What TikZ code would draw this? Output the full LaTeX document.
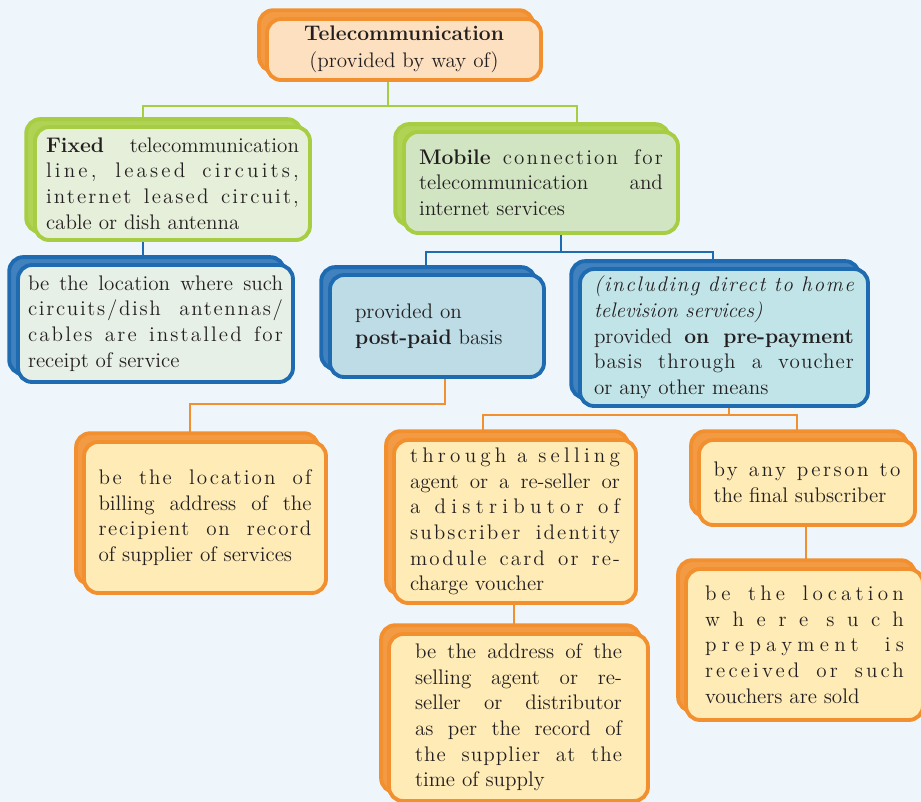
\documentclass[tikz,border=0pt]{standalone}
\usepackage{fontspec}
\setmainfont{Latin Modern Roman}
\usetikzlibrary{shadows,backgrounds}

\tolerance=10000
\newcommand\spread[2]{{\addfontfeature{LetterSpace=#1}#2}}

\definecolor{telorange}{HTML}{F2902F}
\definecolor{telpeach}{HTML}{FDE0BF}
\definecolor{telcream}{HTML}{FEEBB6}
\definecolor{telgreen}{HTML}{A7CD42}
\definecolor{telsage}{HTML}{E5EFD9}
\definecolor{telmint}{HTML}{D1E5C3}
\definecolor{telblue}{HTML}{1E6BB2}
\definecolor{telfog}{HTML}{E7F0E7}
\definecolor{telsky}{HTML}{BDDCE6}
\definecolor{telaqua}{HTML}{C1E4E8}
\definecolor{telback}{HTML}{EEF6FC}
\definecolor{telink}{HTML}{231F20}

\tikzset{
  card/.style={rounded corners=8pt, line width=2.2pt, inner sep=0pt, align=justify,
    text=telink, font=\fontsize{12}{14.6}\selectfont},
  ocard/.style={card, draw=telorange, fill=telcream,
    general shadow={draw=telorange, fill=telorange!90, shadow xshift=-4.5pt, shadow yshift=5pt}},
  pcard/.style={ocard, fill=telpeach},
  gcard/.style={card, draw=telgreen,
    general shadow={draw=telgreen, fill=telgreen!90, shadow xshift=-5pt, shadow yshift=4.5pt}},
  bcard/.style={card, draw=telblue,
    general shadow={draw=telblue, fill=telblue!85, shadow xshift=-5pt, shadow yshift=4.5pt}},
  gline/.style={draw=telgreen, line width=1.5pt},
  bline/.style={draw=telblue, line width=1.5pt},
  oline/.style={draw=telorange, line width=1.5pt}
}

\begin{document}
\begin{tikzpicture}[x=0.02cm, y=-0.02cm]
\useasboundingbox (0,0) rectangle (921,802);

% first level
\node[pcard, minimum width=5.48cm, minimum height=1.22cm, text width=4.8cm, align=center,
  font=\fontsize{12}{15.3}\selectfont] (tele) at (404,49.5)
  {\textbf{Telecommunication}\\(provided by way of)};

\node[gcard, fill=telsage, minimum width=5.5cm, minimum height=2.26cm, text width=5.06cm] (fixed) at (172.5,183.5)
  {\textbf{Fixed} telecommunication\linebreak \spread{15}{line, leased circuits,}\linebreak \spread{10}{internet leased circuit,}\linebreak cable or dish antenna};
\node[gcard, fill=telmint, minimum width=5.48cm, minimum height=2.02cm, text width=4.88cm] (mobile) at (541,182.5)
  {\textbf{Mobile} \spread{10}{connection for}\linebreak telecommunication and\linebreak internet services};

% blue row
\node[bcard, fill=telfog, minimum width=5.5cm, minimum height=2.34cm, text width=5.1cm] (bleft) at (155.5,323.5)
  {be the location where such\linebreak \spread{8}{circuits/dish antennas/}\linebreak \spread{10}{cables are installed for}\linebreak receipt of service};
\node[bcard, fill=telsky, minimum width=4.28cm, minimum height=2.04cm, text width=3.28cm, align=left] (post) at (437,326)
  {provided on\\\textbf{post-paid} basis};
\node[bcard, fill=telaqua, minimum width=5.76cm, minimum height=2.74cm, text width=5.2cm] (pre) at (724,337.5)
  {\textit{\spread{8}{(including direct to home}\linebreak television services)}\newline provided \textbf{on pre-payment}\linebreak \spread{5}{basis through a voucher}\linebreak or any other means};

% orange row
\node[ocard, minimum width=4.84cm, minimum height=3.02cm, text width=4.26cm] (bill) at (205,517.5)
  {\spread{10}{be the location of}\linebreak billing address of the\linebreak \spread{8}{recipient on record}\linebreak of supplier of services};
\node[ocard, minimum width=4.84cm, minimum height=3.26cm, text width=4.2cm] (sell) at (515,521.5)
  {\spread{20}{through a selling}\linebreak agent or a re-seller or\linebreak \spread{25}{a distributor of}\linebreak \spread{10}{subscriber identity}\linebreak \spread{10}{module card or re-}\linebreak charge voucher};
\node[ocard, minimum width=4.32cm, minimum height=1.7cm, text width=3.74cm] (person) at (807,482.5)
  {\spread{12}{by any person to}\linebreak the final subscriber};

% last row
\node[ocard, minimum width=5.18cm, minimum height=3.34cm, text width=4.14cm] (addr) at (518.5,717.5)
  {be the address of the\linebreak selling agent or re-\linebreak seller or distributor\linebreak as per the record of\linebreak \spread{5}{the supplier at the}\linebreak time of supply};
\node[ocard, minimum width=4.74cm, minimum height=3.02cm, text width=3.98cm] (place) at (804.5,644.5)
  {\spread{20}{be the location}\linebreak \spread{60}{where such}\linebreak \spread{25}{prepayment is}\linebreak \spread{15}{received or such}\linebreak vouchers are sold};

\begin{scope}[on background layer]
\fill[telback] (0,0) rectangle (921,802);
\coordinate (tj) at (388,106);
\coordinate (mj) at (561,252);
\coordinate (pj) at (445,404);
\coordinate (qj) at (729,415);
\draw[gline] (tj |- tele.south) -- (tj) -| (143,0 |- fixed.north);
\draw[gline] (tj) -| (577,0 |- mobile.north);
\draw[bline] (143,0 |- fixed.south) -- (143,0 |- bleft.north);
\draw[bline] (mj |- mobile.south) -- (mj) -| (426,0 |- post.north);
\draw[bline] (mj) -| (713,0 |- pre.north);
\draw[oline] (pj |- post.south) -- (pj) -| (190,0 |- bill.north);
\draw[oline] (qj |- pre.south) -- (qj) -| (483,0 |- sell.north);
\draw[oline] (qj) -| (797,0 |- person.north);
\draw[oline] (514,0 |- sell.south) -- (514,0 |- addr.north);
\draw[oline] (806,0 |- person.south) -- (806,0 |- place.north);
\end{scope}
\end{tikzpicture}
\end{document}
